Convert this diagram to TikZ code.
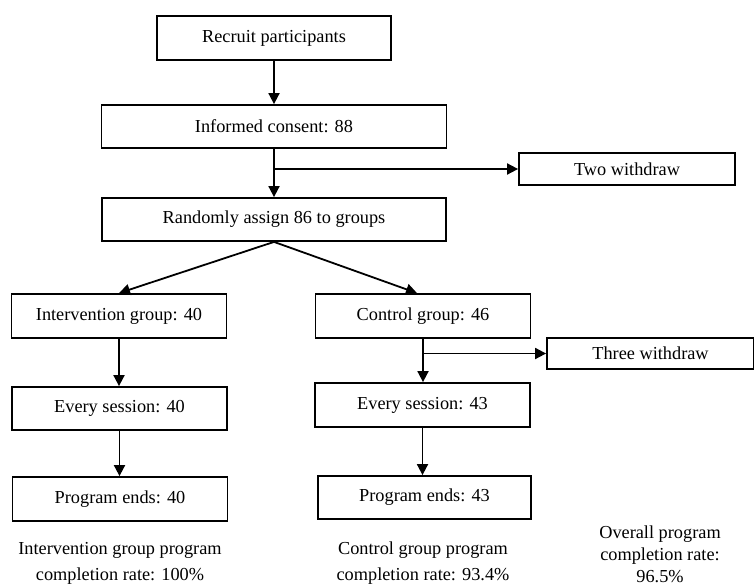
\documentclass[tikz,border=0pt]{standalone}
\usepackage{fontspec}
\setmainfont{Liberation Serif}
\usetikzlibrary{arrows.meta}

\tikzset{
  box/.style={draw, line width=1.8pt, inner sep=0pt, minimum width=215pt,
    minimum height=44pt, align=center},
  arr/.style={line width=1.8pt, -{Triangle[length=11pt,width=11pt]}},
  note/.style={align=center, inner sep=0pt}
}

\begin{document}
\begin{tikzpicture}[x=1pt, y=-1pt, font=\fontsize{18.3}{26}\selectfont]
\useasboundingbox (0,0) rectangle (754,586);

% top
\node[box, minimum width=234pt] (recruit) at (274,38) {Recruit participants};
\node[box, minimum width=345pt, minimum height=43pt] (informed) at (274,126.5) {Informed consent: 88};
\node[box, minimum width=216pt, minimum height=32pt] (two) at (627,169) {Two withdraw};
\node[box, minimum width=344pt, minimum height=43pt] (random) at (274,219.5) {Randomly assign 86 to groups};

% groups
\node[box] (interv) at (119,316) {Intervention group: 40};
\node[box] (control) at (423,316) {Control group: 46};
\node[box, minimum width=207pt, minimum height=31pt] (three) at (650.5,353.5) {Three withdraw};
\node[box, minimum height=43pt] (sess1) at (119.5,408.5) {Every session: 40};
\node[box] (sess2) at (422.5,405) {Every session: 43};
\node[box] (end1) at (120,499) {Program ends: 40};
\node[box, minimum width=213pt, minimum height=43pt] (end2) at (424.5,497.5) {Program ends: 43};

% rates
\node[note] (rate1) at (120,563) {Intervention group program\\completion rate: 100\%};
\node[note] (rate2) at (423,563) {Control group program\\completion rate: 93.4\%};
\node[note, font=\fontsize{18.3}{22}\selectfont] (overall) at (660,554) {Overall program\\completion rate:\\96.5\%};

% connectors
\coordinate (split1) at (informed.south |- two.west);
\coordinate (split2) at (control.south |- three.west);
\draw[arr] (recruit.south) -- (informed.north);
\draw[arr] (informed.south) -- (random.north);
\draw[arr] (split1) -- (two.west);
\draw[arr] (random.south) -- (interv.north);
\draw[arr] (random.south) -- ([xshift=-6pt]control.north);
\draw[arr] (interv.south) -- (interv.south |- sess1.north);
\draw[arr] (control.south) -- (control.south |- sess2.north);
\draw[arr] (split2) -- (three.west);
\draw[arr] (sess1.south) -- (sess1.south |- end1.north);
\draw[arr] (sess2.south) -- (sess2.south |- end2.north);

\end{tikzpicture}
\end{document}
